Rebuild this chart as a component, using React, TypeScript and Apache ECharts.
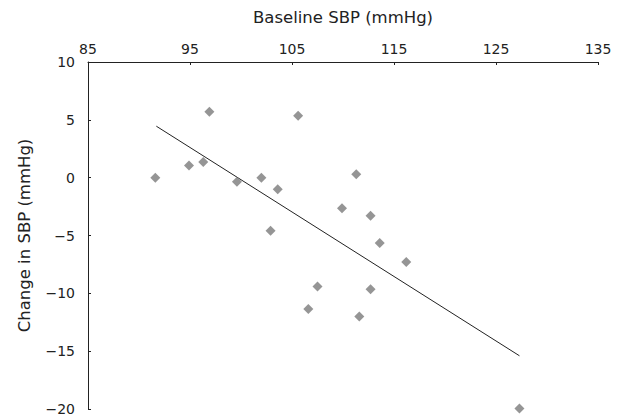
import React, { useEffect, useRef } from "react";
import * as echarts from "echarts";

const baselineSBP = [91.6, 94.9, 96.3, 96.9, 99.6, 102.0, 103.6, 102.9, 105.6, 109.9, 111.3, 112.7, 113.6, 116.2, 107.5, 112.7, 106.6, 111.6, 127.3];
const changeSBP = [0.0, 1.05, 1.35, 5.7, -0.35, 0.0, -1.0, -4.6, 5.35, -2.65, 0.3, -3.3, -5.65, -7.3, -9.4, -9.65, -11.35, -12.0, -19.95];
const trendX = [91.7, 127.3];
const trendY = [4.45, -15.4];
const xTicks = [85, 95, 105, 115, 125, 135];
const yTicks = [-20, -15, -10, -5, 0, 5, 10];

export default function App() {
  const ref = useRef<HTMLDivElement>(null);
  useEffect(() => {
    if (!ref.current) return;
    const chart = echarts.init(ref.current, undefined, { renderer: "svg" });
    const font = "'DejaVu Sans', 'Liberation Sans', Arial, sans-serif";
    chart.setOption({
      animation: false,
      backgroundColor: "#ffffff",
      textStyle: { fontFamily: font },
      grid: { left: 88, right: 21, top: 62, bottom: 7, containLabel: false },
      xAxis: {
        type: "value",
        position: "top",
        min: xTicks[0],
        max: xTicks[xTicks.length - 1],
        interval: 10,
        name: "Baseline SBP (mmHg)",
        nameLocation: "middle",
        nameGap: 36,
        nameTextStyle: { fontSize: 16.5, color: "#222", fontFamily: font },
        axisLine: { show: true, onZero: false, lineStyle: { color: "#222", width: 1 } },
        axisTick: { show: true, inside: true, length: 3, lineStyle: { color: "#222" } },
        axisLabel: { fontSize: 14, color: "#222", margin: 6, fontFamily: font },
        splitLine: { show: false },
      },
      yAxis: {
        type: "value",
        min: yTicks[0],
        max: yTicks[yTicks.length - 1],
        interval: 5,
        name: "Change in SBP (mmHg)",
        nameLocation: "middle",
        nameGap: 55,
        nameTextStyle: { fontSize: 16.5, color: "#222", fontFamily: font },
        axisLine: { show: true, onZero: false, lineStyle: { color: "#222", width: 1 } },
        axisTick: { show: true, inside: true, length: 3, lineStyle: { color: "#222" } },
        axisLabel: {
          fontSize: 14,
          color: "#222",
          margin: 13,
          fontFamily: font,
          formatter: (v: number) => (v < 0 ? "\u2212" + Math.abs(v) : String(v)),
        },
        splitLine: { show: false },
      },
      series: [
        {
          type: "line",
          data: trendX.map((x, i) => [x, trendY[i]]),
          symbol: "none",
          lineStyle: { color: "#222", width: 1 },
          z: 1,
        },
        {
          type: "scatter",
          data: baselineSBP.map((x, i) => [x, changeSBP[i]]),
          symbol: "diamond",
          symbolSize: [10, 10],
          itemStyle: { color: "#7a7a7a" },
          z: 2,
        },
      ],
    });
    return () => chart.dispose();
  }, []);
  return <div ref={ref} style={{ width: 619, height: 416, position: "absolute", left: 0, top: 0 }} />;
}
